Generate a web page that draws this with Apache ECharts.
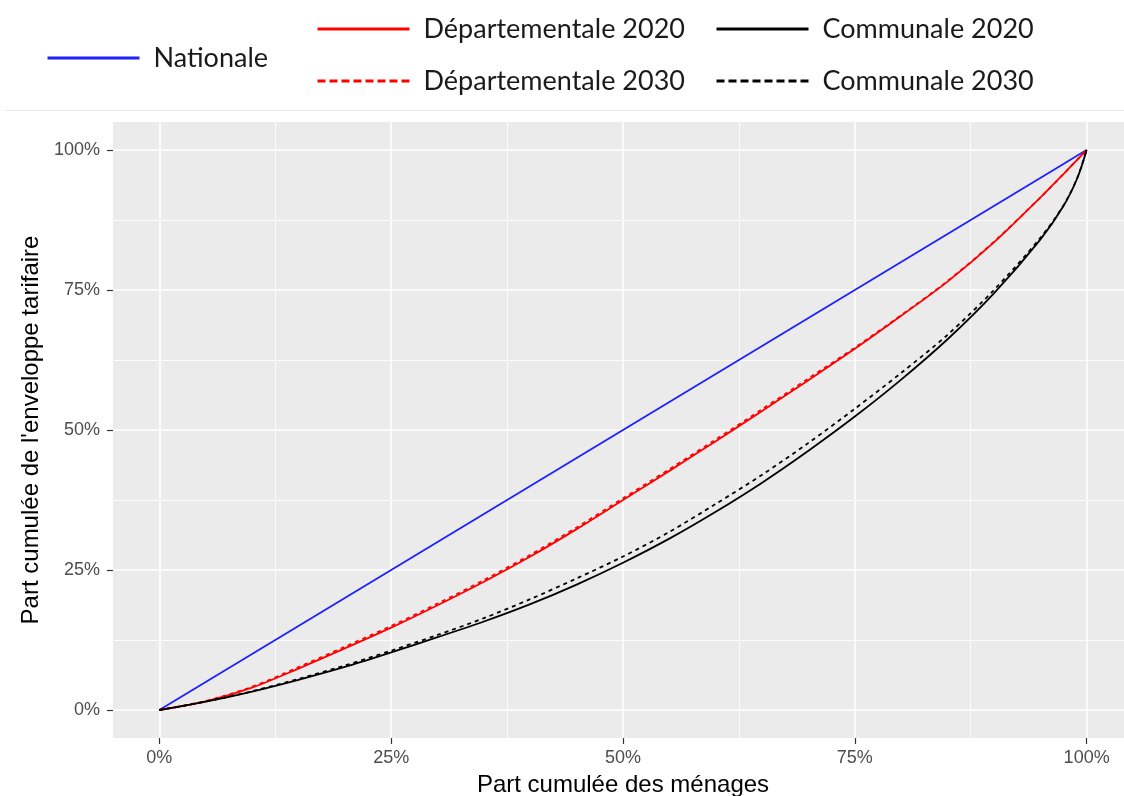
<!DOCTYPE html>
<html>
<head>
<meta charset="utf-8">
<script src="https://cdn.jsdelivr.net/npm/echarts@6/dist/echarts.min.js"></script>
<style>
html,body{margin:0;padding:0;background:#fff;}
#chart{width:1124px;height:796px;}
</style>
</head>
<body>
<div id="chart"></div>
<script>
// ---- data (percent) ----
const xs        = [0,5,10,15,20,25,30,35,40,45,50,55,60,65,70,75,80,85,90,95,97.5,99,100];
const nationale = [0,5,10,15,20,25,30,35,40,45,50,55,60,65,70,75,80,85,90,95,97.5,99,100];
const dep2020 = [0,1.55,4.0,7.4,11.0,14.7,18.7,22.9,27.4,32.3,37.5,42.7,48.0,53.4,58.9,64.5,70.4,76.5,83.5,91.5,95.7,98.3,100];
const dep2030 = [0,1.6,4.15,7.65,11.3,15.0,19.0,23.2,27.7,32.6,37.8,43.0,48.3,53.7,59.2,64.7,70.5,76.6,83.6,91.5,95.7,98.3,100];
const com2020 = [0,1.5,3.3,5.4,7.7,10.3,13.0,15.8,18.9,22.4,26.3,30.6,35.4,40.6,46.3,52.4,59.0,66.2,74.4,84.0,90.0,95.0,100];
const com2030 = [0,1.5,3.35,5.55,7.95,10.6,13.4,16.4,19.8,23.5,27.4,31.8,36.8,42.0,47.7,53.8,60.2,67.0,75.0,84.3,90.1,95.05,100];
const majorTicks = [0,25,50,75,100];
const minorTicks = [12.5,37.5,62.5,87.5];
const seriesNames = ['Nationale','Départementale 2020','Départementale 2030','Communale 2020','Communale 2030'];

const pairs = ys => xs.map((x,i)=>[x, ys[i]]);
const pct = v => v + '%';

const gridLines = [];
majorTicks.forEach(v=>{gridLines.push({xAxis:v,lineStyle:{width:1.6}});gridLines.push({yAxis:v,lineStyle:{width:1.6}});});
minorTicks.forEach(v=>{gridLines.push({xAxis:v,lineStyle:{width:0.8}});gridLines.push({yAxis:v,lineStyle:{width:0.8}});});

const chart = echarts.init(document.getElementById('chart'), null, {renderer:'canvas'});
const legendText = {fontFamily:'Lato', fontSize:27, color:'#1a1a1a', lineHeight:30, padding:[0,0,0,9]};
const legendBase = {orient:'vertical', itemWidth:92, itemHeight:14, itemGap:22, padding:0,
  textStyle:legendText, lineStyle:{width:3}, itemStyle:{opacity:0, borderWidth:0}, selectedMode:false};
const dashedLegend = {width:3, type:[8,4]};
const tickStyle = {show:true, customValues:majorTicks, length:6, lineStyle:{color:'#333', width:1.2}};
chart.setOption({
  animation:false,
  backgroundColor:'#ffffff',
  textStyle:{fontFamily:'Liberation Sans'},
  graphic:[{type:'line', shape:{x1:5,y1:110.5,x2:1124,y2:110.5}, style:{stroke:'#e8e8e8', lineWidth:1}, silent:true}],
  legend:[
    Object.assign({}, legendBase, {data:['Nationale'], left:46, top:43}),
    Object.assign({}, legendBase, {data:['Départementale 2020',{name:'Départementale 2030', lineStyle:dashedLegend}], left:316, top:14}),
    Object.assign({}, legendBase, {data:['Communale 2020',{name:'Communale 2030', lineStyle:dashedLegend}], left:715, top:14})
  ],
  grid:{left:113, right:-9, top:122, bottom:58, backgroundColor:'#ebebeb', show:true, borderWidth:0, outerBoundsMode:'none', containLabel:false},
  xAxis:{type:'value', min:-5, max:105,
    name:'Part cumulée des ménages', nameLocation:'middle', nameGap:35,
    nameTextStyle:{fontSize:24, color:'#000', fontFamily:'Liberation Sans'},
    axisLine:{show:false, onZero:false},
    axisTick:tickStyle,
    axisLabel:{customValues:majorTicks, formatter:pct, color:'#4d4d4d', fontSize:18, margin:11, fontFamily:'Liberation Sans'},
    splitLine:{show:false}},
  yAxis:{type:'value', min:-5, max:105,
    name:'Part cumulée de l\'enveloppe tarifaire', nameLocation:'middle', nameGap:64, nameRotate:90,
    nameTextStyle:{fontSize:24, color:'#000', fontFamily:'Liberation Sans'},
    axisLine:{show:false, onZero:false},
    axisTick:tickStyle,
    axisLabel:{customValues:majorTicks, formatter:pct, color:'#4d4d4d', fontSize:18, margin:13, fontFamily:'Liberation Sans'},
    splitLine:{show:false}},
  series:[
    {name:'_grid', type:'line', data:[[0,0]], symbol:'none', lineStyle:{width:0, opacity:0}, silent:true, z:1,
      markLine:{silent:true, z:1, symbol:['none','none'], label:{show:false}, animation:false,
        lineStyle:{color:'#ffffff', type:'solid'}, data:gridLines}},
    {name:seriesNames[0], type:'line', data:pairs(nationale), symbol:'none', z:3, lineStyle:{color:'#1f1fff', width:1.8}, itemStyle:{color:'#1f1fff'}},
    {name:seriesNames[1], type:'line', data:pairs(dep2020), symbol:'none', smooth:0.3, z:3, lineStyle:{color:'#ff0000', width:1.8}, itemStyle:{color:'#ff0000'}},
    {name:seriesNames[2], type:'line', data:pairs(dep2030), symbol:'none', smooth:0.3, z:3, lineStyle:{color:'#ff0000', width:1.8, type:[4,4]}, itemStyle:{color:'#ff0000'}},
    {name:seriesNames[3], type:'line', data:pairs(com2020), symbol:'none', smooth:0.3, z:3, lineStyle:{color:'#000000', width:1.8}, itemStyle:{color:'#000000'}},
    {name:seriesNames[4], type:'line', data:pairs(com2030), symbol:'none', smooth:0.3, z:3, lineStyle:{color:'#000000', width:1.8, type:[4,4]}, itemStyle:{color:'#000000'}}
  ]
});
</script>
</body>
</html>
